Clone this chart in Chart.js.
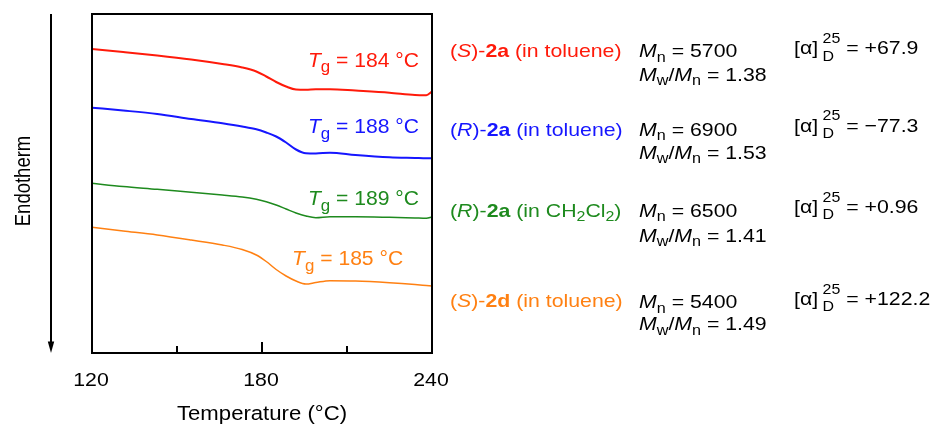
<!DOCTYPE html>
<html>
<head>
<meta charset="utf-8">
<script src="https://cdn.jsdelivr.net/npm/chart.js@4"></script>
<style>
  html, body { margin: 0; padding: 0; background: #fff; }
  canvas { display: block; }
</style>
</head>
<body>
<canvas id="dsc" width="938" height="425"></canvas>
<script>
// DSC heating traces, temperature in °C; heat flow in arbitrary units, each trace offset vertically
const temperatures = [120, 131, 143, 155, 166, 173, 178, 181.5, 185, 188.5, 192, 195.5, 199, 204, 213, 225, 234, 238, 240];
const traceS2aToluene = [304, 301, 297.5, 293.5, 289, 285.5, 281.5, 276.5, 271, 266.5, 263.5, 263.3, 263.8, 263.8, 262.4, 260.3, 258, 257.8, 261.5];
const traceR2aToluene = [245.3, 242.5, 239, 234, 229.7, 226.5, 223.7, 220.5, 216.5, 210.5, 203.5, 199.7, 199.5, 200.3, 198, 195.7, 195, 194.7, 194.7];
const traceR2aCH2Cl2  = [169.7, 166.5, 163.7, 160.7, 158, 156, 153.7, 151.3, 148, 144, 140, 137, 135.3, 136.3, 136.3, 135.7, 135, 134.7, 136];
const traceS2dToluene = [125.7, 122, 118, 113, 108, 103.5, 98, 91.5, 83.5, 77, 72, 69, 70.5, 72.3, 72, 70.3, 68.5, 67.5, 67];

const glassTransitions = [184, 188, 189, 185];
const numberAverageMass = ['5700', '6900', '6500', '5400'];
const dispersity = ['1.38', '1.53', '1.41', '1.49'];
const specificRotation = ['+67.9', '\u221277.3', '+0.96', '+122.2'];

// sample names as rich-text runs (i = italic, b = bold, sub = subscript)
const sampleNames = [
  [{t: '('}, {t: 'S', i: true}, {t: ')-'}, {t: '2a', b: true}, {t: ' (in toluene)'}],
  [{t: '('}, {t: 'R', i: true}, {t: ')-'}, {t: '2a', b: true}, {t: ' (in toluene)'}],
  [{t: '('}, {t: 'R', i: true}, {t: ')-'}, {t: '2a', b: true}, {t: ' (in CH'}, {t: '2', sub: true}, {t: 'Cl'}, {t: '2', sub: true}, {t: ')'}],
  [{t: '('}, {t: 'S', i: true}, {t: ')-'}, {t: '2d', b: true}, {t: ' (in toluene)'}]
];

const xTickValues = [120, 150, 180, 210, 240];
const xTickLabels = ['120', '', '180', '', '240'];
const xTitle = 'Temperature (\u00B0C)';
const yTitle = 'Endotherm';

// ---- styling / layout ----
const colors = ['#ff1a0a', '#1616ff', '#1e8a1e', '#ff8012'];
const lineWidths = [2, 2, 1.5, 1.5];
const FONT = '"Liberation Sans", Arial, Helvetica, sans-serif';
// Tg label anchors in data units (left edge, baseline)
const tgAnchors = [[196.2, 286.3], [196.2, 219.7], [196.2, 148], [190.6, 88]];
// right-hand table: baselines for name / Mn / Mw/Mn / rotation rows
const tableRows = [
  {name: 57, mn: 57, mw: 80.5, rot: 54.3},
  {name: 135.5, mn: 135.5, mw: 158.5, rot: 131.5},
  {name: 216.5, mn: 216.5, mw: 241.5, rot: 213},
  {name: 306.5, mn: 308, mw: 330, rot: 305}
];
const tableCols = {name: 450, mn: 639, rot: 794};

function fontStr(size, italic, bold) {
  return (italic ? 'italic ' : '') + (bold ? 'bold ' : '') + size + 'px ' + FONT;
}

// draws a list of rich-text runs; sx stretches horizontally
function drawRich(ctx, runs, x, y, size, sx, color, subShift, subScale) {
  const ss = subScale || 0.72;
  ctx.save();
  ctx.translate(x, y);
  ctx.scale(sx, 1);
  ctx.textAlign = 'left';
  ctx.textBaseline = 'alphabetic';
  ctx.fillStyle = color;
  let cx = 0;
  for (const r of runs) {
    if (r.gap) { cx += r.gap; continue; }
    if (r.stack) {
      ctx.font = fontStr(size * 0.75);
      ctx.fillText(r.sup, cx, -size * 0.6);
      ctx.fillText(r.sub, cx, size * 0.33);
      cx += Math.max(ctx.measureText(r.sup).width, ctx.measureText(r.sub).width);
      continue;
    }
    const fs = r.sub || r.sup ? size * ss : size;
    ctx.font = fontStr(fs, r.i, r.b);
    const dy = r.sub ? size * (subShift || 0.22) : (r.sup ? -size * 0.4 : 0);
    ctx.fillText(r.t, cx, dy);
    cx += ctx.measureText(r.t).width;
  }
  ctx.restore();
}

function drawCentered(ctx, text, cx, y, size, sx) {
  ctx.save();
  ctx.font = fontStr(size);
  const w = ctx.measureText(text).width * sx;
  ctx.translate(cx - w / 2, y);
  ctx.scale(sx, 1);
  ctx.textAlign = 'left';
  ctx.textBaseline = 'alphabetic';
  ctx.fillStyle = '#000';
  ctx.fillText(text, 0, 0);
  ctx.restore();
}

const decorations = {
  id: 'decorations',
  afterDraw(chart) {
    const ctx = chart.ctx;
    const a = chart.chartArea;
    const xs = chart.scales.x;
    const ys = chart.scales.y;

    // frame
    ctx.save();
    ctx.strokeStyle = '#000';
    ctx.lineWidth = 2;
    ctx.strokeRect(a.left, a.top, a.right - a.left, a.bottom - a.top);

    // inward ticks on the temperature axis
    xTickValues.forEach((v, i) => {
      const px = xs.getPixelForValue(v);
      const len = xTickLabels[i] ? 11 : 7;
      ctx.beginPath();
      ctx.moveTo(px, a.bottom);
      ctx.lineTo(px, a.bottom - len);
      ctx.stroke();
    });
    ctx.restore();

    // tick labels and axis title
    xTickValues.forEach((v, i) => {
      if (xTickLabels[i]) drawCentered(ctx, xTickLabels[i], xs.getPixelForValue(v) - 1, 386, 19, 1.12);
    });
    drawCentered(ctx, xTitle, (a.left + a.right) / 2, 420, 20.5, 1.08);

    // endotherm arrow
    ctx.save();
    ctx.strokeStyle = '#000';
    ctx.fillStyle = '#000';
    ctx.lineWidth = 2;
    ctx.beginPath();
    ctx.moveTo(51, a.top);
    ctx.lineTo(51, a.bottom - 8);
    ctx.stroke();
    ctx.beginPath();
    ctx.moveTo(51, a.bottom);
    ctx.lineTo(47.8, a.bottom - 11.5);
    ctx.lineTo(54.2, a.bottom - 11.5);
    ctx.closePath();
    ctx.fill();
    // rotated y title
    ctx.translate(30, 181);
    ctx.rotate(-Math.PI / 2);
    ctx.scale(1, 1.18);
    ctx.font = fontStr(18.5);
    ctx.textAlign = 'center';
    ctx.textBaseline = 'alphabetic';
    ctx.fillText(yTitle, 0, 0);
    ctx.restore();

    // Tg labels beside each trace
    glassTransitions.forEach((tg, i) => {
      const px = xs.getPixelForValue(tgAnchors[i][0]);
      const py = ys.getPixelForValue(tgAnchors[i][1]);
      drawRich(ctx, [{t: 'T', i: true}, {t: 'g', sub: true}, {t: ' = ' + tg + ' \u00B0C'}],
        px, py, 20.5, 1.03, colors[i], 0.27, 0.8);
    });

    // sample table on the right
    tableRows.forEach((row, i) => {
      drawRich(ctx, sampleNames[i], tableCols.name, row.name, 19, 1.12, colors[i], 0.24, 0.75);
      drawRich(ctx, [{t: 'M', i: true}, {t: 'n', sub: true}, {t: ' = ' + numberAverageMass[i]}],
        tableCols.mn, row.mn, 19, 1.12, '#000', 0.24, 0.76);
      drawRich(ctx, [{t: 'M', i: true}, {t: 'w', sub: true}, {t: '/'}, {t: 'M', i: true}, {t: 'n', sub: true}, {t: ' = ' + dispersity[i]}],
        tableCols.mn, row.mw, 19, 1.12, '#000', 0.24, 0.76);
      drawRich(ctx, [{t: '[\u03B1]'}, {gap: 4}, {stack: true, sup: '25', sub: 'D'}, {t: ' = ' + specificRotation[i]}],
        tableCols.rot, row.rot, 19, 1.12, '#000');
    });
  }
};

const traces = [traceS2aToluene, traceR2aToluene, traceR2aCH2Cl2, traceS2dToluene];

new Chart(document.getElementById('dsc'), {
  type: 'line',
  data: {
    datasets: traces.map((tr, i) => ({
      data: temperatures.map((t, k) => ({x: t, y: tr[k]})),
      borderColor: colors[i],
      borderWidth: lineWidths[i],
      pointRadius: 0,
      fill: false,
      cubicInterpolationMode: 'monotone'
    }))
  },
  options: {
    responsive: false,
    animation: false,
    layout: {padding: {left: 92, right: 506, top: 14, bottom: 0}},
    plugins: {legend: {display: false}, tooltip: {enabled: false}},
    scales: {
      x: {
        type: 'linear',
        min: 120,
        max: 240,
        grid: {display: false},
        border: {display: false},
        ticks: {display: false},
        afterFit: s => { s.height = 72; }
      },
      y: {
        type: 'linear',
        min: 0,
        max: 339,
        display: false
      }
    }
  },
  plugins: [decorations]
});
</script>
</body>
</html>
